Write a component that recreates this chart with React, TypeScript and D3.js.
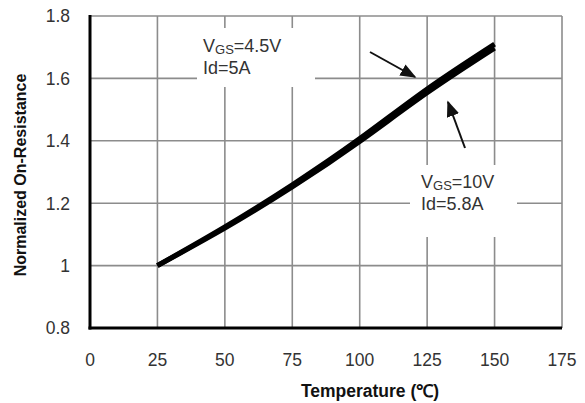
import React from "react";
import * as d3 from "d3";

const xTicks = [0, 25, 50, 75, 100, 125, 150, 175];
const yTicks = [0.8, 1, 1.2, 1.4, 1.6, 1.8];

const temps = [25, 50, 75, 100, 125, 150];
const rds45 = [1.0, 1.124, 1.259, 1.407, 1.566, 1.71];
const rds10 = [1.0, 1.12, 1.252, 1.398, 1.554, 1.697];

const W = 585;
const H = 403;
const margin = { top: 16, right: 23, bottom: 75, left: 90 };

const x = d3.scaleLinear().domain([0, 175]).range([margin.left, W - margin.right]);
const y = d3.scaleLinear().domain([0.8, 1.8]).range([H - margin.bottom, margin.top]);

const line = d3
  .line<number>()
  .x((_, i) => x(temps[i]))
  .y((d) => y(d))
  .curve(d3.curveNatural);

const font = "'Liberation Sans', Arial, sans-serif";
const grid = "#8c8c8c";

export default function App() {
  const x0 = x(0), x1 = x(175), y0 = y(0.8), y1 = y(1.8);
  return (
    <svg width={W} height={H} style={{ position: "absolute", left: 0, top: 0, background: "#fff" }}>
      <defs>
        <marker id="ah" viewBox="0 0 10 10" refX="9" refY="5" markerWidth="8" markerHeight="8" orient="auto">
          <path d="M0,1 L10,5 L0,9 Z" fill="#111" />
        </marker>
      </defs>
      {/* grid */}
      {xTicks.slice(1, -1).map((t) => (
        <line key={"gx" + t} x1={x(t)} x2={x(t)} y1={y1} y2={y0} stroke={grid} strokeWidth={1.6} />
      ))}
      {yTicks.slice(1, -1).map((t) => (
        <line key={"gy" + t} x1={x0} x2={x1} y1={y(t)} y2={y(t)} stroke={grid} strokeWidth={1.6} />
      ))}
      <line x1={x0} x2={x1} y1={y1} y2={y1} stroke={grid} strokeWidth={1.6} />
      <line x1={x1} x2={x1} y1={y1} y2={y0} stroke={grid} strokeWidth={1.6} />

      {/* label backgrounds masking grid */}
      <rect x={197} y={28} width={118} height={59} fill="#fff" />
      <rect x={410} y={165} width={107} height={72} fill="#fff" />

      {/* axes */}
      <line x1={x0} x2={x0} y1={y1 - 1} y2={y0 + 1.5} stroke="#000" strokeWidth={3} />
      <line x1={x0 - 1.5} x2={x1} y1={y0} y2={y0} stroke="#000" strokeWidth={3} />

      {/* curves */}
      <path d={line(rds45) || ""} fill="none" stroke="#000" strokeWidth={5} />
      <path d={line(rds10) || ""} fill="none" stroke="#000" strokeWidth={5} />

      {/* ticks */}
      {yTicks.map((t) => (
        <text key={"ty" + t} x={70} y={y(t)} dy="0.36em" textAnchor="end" fontFamily={font} fontSize={17.5} fill="#333">
          {d3.format("~g")(t)}
        </text>
      ))}
      {xTicks.map((t) => (
        <text key={"tx" + t} x={x(t)} y={360} dy="0.36em" textAnchor="middle" fontFamily={font} fontSize={17.5} fill="#333">
          {t}
        </text>
      ))}

      {/* axis titles */}
      <text x={370} y={391} dy="0.36em" textAnchor="middle" fontFamily={font} fontSize={17.5} fontWeight="bold" fill="#111">
        Temperature (℃)
      </text>
      <text transform={`translate(20,${175}) rotate(-90)`} dy="0.36em" textAnchor="middle" fontFamily={font} fontSize={16} fontWeight="bold" fill="#111">
        Normalized On-Resistance
      </text>

      {/* annotations */}
      <g fontFamily={font} fontSize={18} fill="#333">
        <text x={203} y={52}>
          V<tspan fontSize={13} dy={2}>GS</tspan><tspan dy={-2}>=4.5V</tspan>
        </text>
        <text x={203} y={74}>Id=5A</text>
        <text x={421} y={188}>
          V<tspan fontSize={13} dy={2}>GS</tspan><tspan dy={-2}>=10V</tspan>
        </text>
        <text x={421} y={210}>Id=5.8A</text>
      </g>
      <line x1={370} y1={52} x2={415} y2={77} stroke="#111" strokeWidth={2} markerEnd="url(#ah)" />
      <line x1={465} y1={148} x2={448} y2={102} stroke="#111" strokeWidth={2} markerEnd="url(#ah)" />
    </svg>
  );
}
